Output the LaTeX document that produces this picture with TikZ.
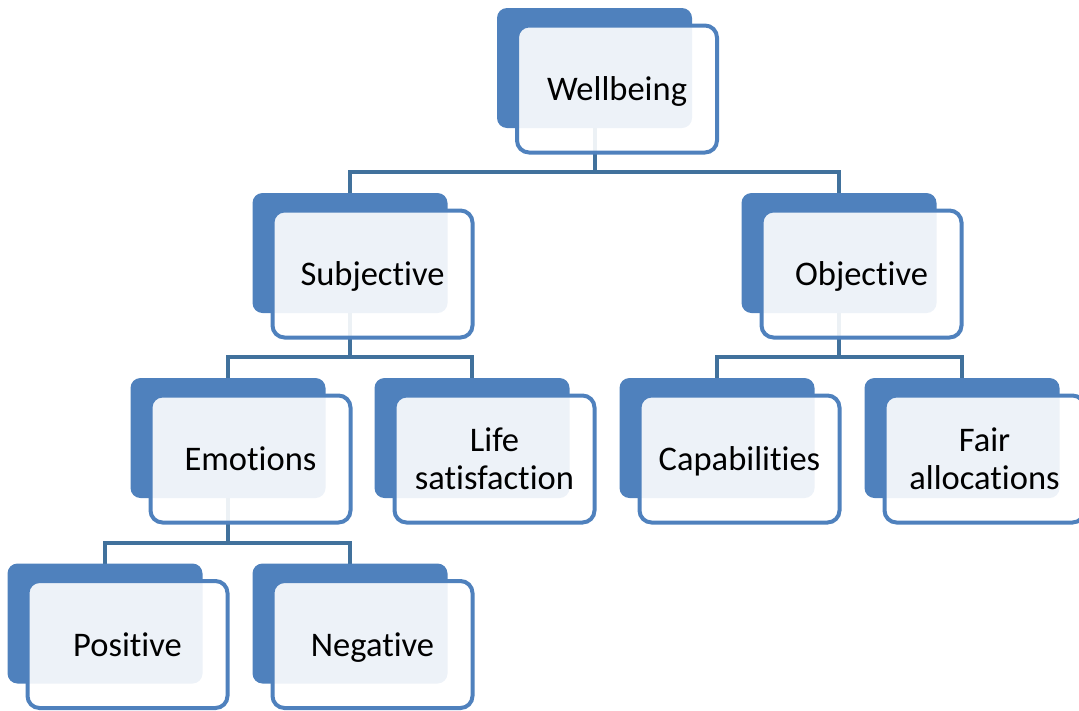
\documentclass[tikz,border=0pt]{standalone}
\usepackage{fontspec}
\setmainfont{Carlito}[Ligatures=NoCommon]
\usetikzlibrary{backgrounds}
\definecolor{boxblue}{HTML}{4F81BD}
\definecolor{linkblue}{HTML}{41719C}
\tikzset{
  backbox/.style={fill=boxblue, draw=none, rounded corners=10pt, minimum width=195pt, minimum height=120pt, inner sep=0pt, outer sep=0pt},
  frontbox/.style={draw=boxblue, line width=4pt, fill=white, fill opacity=0.9, text opacity=1, rounded corners=12pt, minimum width=200pt, minimum height=127pt, inner sep=0pt, align=center, font=\fontsize{34.5}{38}\selectfont},
  oneline/.style={text height=29pt, text depth=6pt},
  twoline/.style={},
  link/.style={draw=linkblue, line width=4pt}
}
\newcommand{\elem}[5]{% name, cx, top, text, style
  \node[backbox] (#1B) at (#2,#3+60) {};
  \node[frontbox,#5] (#1) at (#2+22.5,#3+81) {#4};
}
\begin{document}
\begin{tikzpicture}[x=1pt,y=-1pt]
\useasboundingbox (0,0) rectangle (1079,710);
\elem{wb}{594.5}{8}{Wellbeing}{oneline}
\elem{sub}{350}{193}{Subjective}{oneline}
\elem{obj}{839}{193}{Objective}{oneline}
\elem{emo}{228}{378}{Emotions}{oneline}
\elem{life}{472}{378}{Life\\satisfaction}{twoline}
\elem{cap}{717}{378}{Capabilities}{oneline}
\elem{fair}{962}{378}{Fair\\allocations}{twoline}
\elem{pos}{105}{563.5}{Positive}{oneline}
\elem{neg}{350}{563.5}{Negative}{oneline}
\begin{scope}[on background layer]
  \draw[link] (wbB.south) -- ++(0,44) -| (subB.north);
  \draw[link] (wbB.south) -- ++(0,44) -| (objB.north);
  \draw[link] (subB.south) -- ++(0,44) -| (emoB.north);
  \draw[link] (subB.south) -- ++(0,44) -| (lifeB.north);
  \draw[link] (objB.south) -- ++(0,44) -| (capB.north);
  \draw[link] (objB.south) -- ++(0,44) -| (fairB.north);
  \draw[link] (emoB.south) -- ++(0,45) -| (posB.north);
  \draw[link] (emoB.south) -- ++(0,45) -| (negB.north);
\end{scope}
\end{tikzpicture}
\end{document}
